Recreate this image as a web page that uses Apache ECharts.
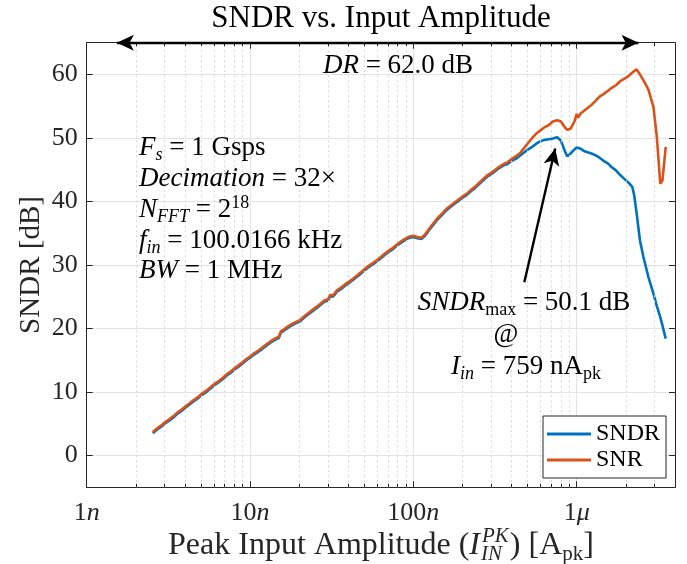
<!DOCTYPE html>
<html><head><meta charset="utf-8">
<script src="https://cdn.jsdelivr.net/npm/echarts@6/dist/echarts.min.js"></script>
<style>html,body{margin:0;padding:0;background:#fff}#c{width:687px;height:564px}</style>
</head><body><div id="c"></div>
<script>
// Peak input amplitude in nA
const ampNA = [2.54,2.7,2.85,3.0,3.2,3.4,3.6,3.8,4.0,4.25,4.5,4.8,5.1,5.4,5.7,6.0,6.4,6.8,7.2,7.6,8.0,8.5,9.0,9.5,10.0,10.6,11.2,11.9,12.6,13.4,14.2,15.0,15.5,16.0,17.0,18.0,19.0,20.2,21.4,22.7,24.0,25.5,27.0,28.5,30.0,31.0,32.0,33.0,34.0,36.0,38.0,40.0,42.5,45.0,47.5,50.5,53.5,56.5,60,63.5,67,71,75,80,85,90,95,100,106,112,118,125,133,141,150,159,168,178,189,200,212,225,238,252,267,283,300,318,337,357,378,400,424,449,476,504,534,566,600,636,674,714,759,800,850,877,920,970,1000,1020,1060,1100,1150,1220,1300,1380,1460,1550,1640,1740,1840,1950,2070,2190,2250,2330,2440,2560,2750,2950,3100,3250,3350,3510];
const sndrDB = [3.5,4.1,4.5,5.0,5.5,6.0,6.6,7.0,7.5,8.0,8.5,9.0,9.6,10.0,10.5,11.0,11.5,12.0,12.6,13.0,13.5,14.0,14.5,15.0,15.4,15.9,16.3,16.8,17.3,17.8,18.2,18.5,19.4,19.6,20.1,20.5,20.8,21.1,21.7,22.2,22.7,23.2,23.7,24.2,24.4,25.1,25.0,25.3,25.8,26.2,26.7,27.1,27.6,28.1,28.6,29.2,29.7,30.1,30.6,31.1,31.6,32.1,32.5,33.1,33.6,34.0,34.3,34.4,34.2,34.1,34.6,35.5,36.4,37.2,37.9,38.6,39.1,39.6,40.1,40.6,41.0,41.6,42.1,42.7,43.3,43.9,44.3,44.8,45.3,45.7,45.9,46.4,46.7,47.2,47.7,48.2,48.6,49.1,49.5,49.7,49.8,49.9,50.1,49.6,47.8,47.1,47.6,48.2,48.5,48.6,48.3,48.0,47.8,47.6,47.3,46.9,46.4,46.0,45.4,44.9,44.2,43.6,43.0,42.3,41.0,38.1,33.9,31.3,28.1,25.5,23.5,21.8,20.5,18.4];
const snrDB = [3.7,4.3,4.7,5.2,5.7,6.2,6.8,7.2,7.7,8.2,8.7,9.2,9.8,10.2,10.7,11.2,11.7,12.2,12.8,13.2,13.7,14.2,14.7,15.2,15.6,16.1,16.5,17.0,17.5,18.0,18.4,18.7,19.6,19.8,20.3,20.7,21.0,21.3,21.9,22.4,22.9,23.4,23.9,24.4,24.6,25.3,25.2,25.5,26.0,26.4,26.9,27.3,27.8,28.3,28.8,29.4,29.9,30.3,30.8,31.3,31.8,32.3,32.7,33.3,33.8,34.2,34.5,34.6,34.4,34.3,34.8,35.7,36.6,37.4,38.1,38.8,39.3,39.8,40.3,40.8,41.2,41.8,42.3,42.9,43.5,44.1,44.5,45.0,45.5,45.9,46.2,46.7,47.1,47.6,48.4,49.2,50.0,50.7,51.2,51.7,52.0,52.6,52.8,52.6,51.6,51.3,51.5,52.6,53.8,53.2,53.9,54.2,54.6,55.1,55.8,56.5,56.9,57.4,57.9,58.3,58.9,59.3,59.7,60.3,60.6,60.8,60.0,59.1,57.6,54.9,50.0,42.8,43.3,48.6];
const seriesNames = ['SNDR','SNR'];
const seriesColors = ['#0072BD','#D95319'];
const xTickValues = [1,10,100,1000];
const xTickNums = ['1','10','100','1'];
const xTickUnits = ['n','n','n','μ'];
const yTickValues = [0,10,20,30,40,50,60];
// annotation arrows in data coordinates [nA, dB]
const drArrowStart = [1.53,65], drArrowEnd = [2390,65];
const peakArrowStart = [478,27.3], peakArrowEnd = [739,48.35];

const FAM = '"Liberation Serif","Times New Roman",serif';
const SERIF = FAM;
const TXT = '#262626';

const mctx = document.createElement('canvas').getContext('2d');
function measure(t, size, italic){ mctx.font = (italic ? 'italic ' : '') + size + 'px ' + FAM; return mctx.measureText(t).width; }

// minor log grid positions
const minorX = [];
for (let k = 0; k < 4; k++) for (let d = 2; d <= 9; d++) { const v = d * Math.pow(10, k); if (v < 4000) minorX.push(v); }

function isTick(v, arr){ return arr.findIndex(t => Math.abs(Math.log10(v) - Math.log10(t)) < 1e-6); }

const chart = echarts.init(document.getElementById('c'));
const xBase = {type:'log', logBase:10, min:1, max:4000};
const yBase = {type:'value', min:-5, max:65, splitNumber:7};

const minorLines = minorX.map(v => ({xAxis:v}));
const minorTicks = [];
minorX.forEach(v => {
  minorTicks.push([{coord:[v,-5]},{coord:[v,-4.45]}]);
  minorTicks.push([{coord:[v,65]},{coord:[v,64.45]}]);
});

// x-axis title built from pieces (stacked super/subscript)
const XL = 32, XS = 21, xlY = 546;
const xlParts = [
  {t:'Peak Input Amplitude (', s:XL, it:false, dy:0},
  {t:'I', s:XL, it:true, dy:0},
  {stack:true, sup:'PK', sub:'IN', s:XS},
  {t:') [A', s:XL, it:false, dy:0},
  {t:'pk', s:XS, it:false, dy:8},
  {t:']', s:XL, it:false, dy:0}
];
let xlW = 0;
xlParts.forEach(p => { p.w = p.stack ? Math.max(measure(p.sup, p.s, true), measure(p.sub, p.s, true)) + 3 : measure(p.t, p.s, p.it); xlW += p.w; });
let cx = 381 - xlW / 2;
const xlGraphics = [];
xlParts.forEach(p => {
  if (p.stack) {
    xlGraphics.push({type:'text', z:10, x:cx + 2, y:xlY - 10, style:{text:p.sup, fontFamily:FAM, fontSize:p.s, fontStyle:'italic', fill:TXT, textVerticalAlign:'middle'}});
    xlGraphics.push({type:'text', z:10, x:cx + 1, y:xlY + 8, style:{text:p.sub, fontFamily:FAM, fontSize:p.s, fontStyle:'italic', fill:TXT, textVerticalAlign:'middle'}});
  } else {
    xlGraphics.push({type:'text', z:10, x:cx, y:xlY + p.dy, style:{text:p.t, fontFamily:FAM, fontSize:p.s, fontStyle:p.it ? 'italic' : 'normal', fill:TXT, textVerticalAlign:'middle'}});
  }
  cx += p.w;
});

const AS = 27, SS = 18;
function rich(){ return {
  i:{fontFamily:FAM, fontSize:AS, fontStyle:'italic', fill:'#000', lineHeight:32},
  t:{fontFamily:FAM, fontSize:AS, fill:'#000', lineHeight:32},
  s:{fontFamily:FAM, fontSize:SS, fontStyle:'italic', fill:'#000', lineHeight:17, verticalAlign:'bottom'},
  b:{fontFamily:FAM, fontSize:SS, fill:'#000', lineHeight:17, verticalAlign:'bottom'},
  p:{fontFamily:FAM, fontSize:SS, fill:'#000', lineHeight:20, verticalAlign:'top'}
}; }

chart.setOption({
  animation:false,
  backgroundColor:'#fff',
  grid:{left:86.7, top:42.7, right:12, bottom:76.7, containLabel:false},
  xAxis:[
    Object.assign({}, xBase, {position:'bottom',
      axisLine:{show:true, onZero:false, lineStyle:{color:TXT, width:1}},
      axisTick:{show:true, inside:true, length:6, lineStyle:{color:TXT}},
      splitLine:{show:true, lineStyle:{color:'#e3e3e3', width:1}},
      axisLabel:{margin:13, color:TXT, fontFamily:SERIF, fontSize:26,
        formatter:function(v){ const i = isTick(v, xTickValues); if (i < 0) return ''; return '{n|' + xTickNums[i] + '}{u|' + xTickUnits[i] + '}'; },
        rich:{n:{fontFamily:SERIF, fontSize:26, color:TXT}, u:{fontFamily:SERIF, fontSize:26, fontStyle:'italic', color:TXT}}}
    }),
    Object.assign({}, xBase, {position:'top',
      axisLine:{show:true, onZero:false, lineStyle:{color:TXT, width:1}},
      axisTick:{show:true, inside:true, length:6, lineStyle:{color:TXT}},
      splitLine:{show:false}, axisLabel:{show:false}})
  ],
  yAxis:[
    Object.assign({}, yBase, {position:'left',
      axisLine:{show:true, onZero:false, lineStyle:{color:TXT, width:1}},
      axisTick:{show:true, inside:true, length:6, lineStyle:{color:TXT}},
      splitLine:{show:true, lineStyle:{color:'#e3e3e3', width:1}},
      axisLabel:{margin:9, color:TXT, fontFamily:SERIF, fontSize:26,
        formatter:function(v){ return yTickValues.indexOf(Math.round(v)) >= 0 && Math.abs(v - Math.round(v)) < 1e-6 ? String(Math.round(v)) : ''; }}
    }),
    Object.assign({}, yBase, {position:'right',
      axisLine:{show:true, onZero:false, lineStyle:{color:TXT, width:1}},
      axisTick:{show:true, inside:true, length:6, lineStyle:{color:TXT}},
      splitLine:{show:false}, axisLabel:{show:false}})
  ],
  legend:{
    data:seriesNames, orient:'vertical', left:543, top:416, z:20,
    backgroundColor:'#fff', borderColor:TXT, borderWidth:1,
    padding:[6,6,6,4], itemGap:2, itemWidth:44, itemHeight:3, icon:'rect',
    textStyle:{fontFamily:SERIF, fontSize:24, color:'#000'}
  },
  series:[
    {type:'line', name:'grid-minor', data:[], silent:true, z:1,
      markLine:{silent:true, symbol:['none','none'], label:{show:false}, animation:false,
        lineStyle:{type:[2,3], color:'#d6d6d6', width:1}, data:minorLines}},
    {type:'line', name:'tick-minor', data:[], silent:true, z:3,
      markLine:{silent:true, symbol:['none','none'], label:{show:false}, animation:false,
        lineStyle:{type:'solid', color:TXT, width:1}, data:minorTicks}},
    {type:'line', name:seriesNames[0], data:ampNA.map((a,i)=>[a, sndrDB[i]]), showSymbol:false, symbol:'none',
      lineStyle:{color:seriesColors[0], width:2.6}, itemStyle:{color:seriesColors[0]}, z:4},
    {type:'line', name:seriesNames[1], data:ampNA.map((a,i)=>[a, snrDB[i]]), showSymbol:false, symbol:'none',
      lineStyle:{color:seriesColors[1], width:2.6}, itemStyle:{color:seriesColors[1]}, z:5},
    {type:'line', name:'arrows', data:[], silent:true, z:6,
      markLine:{silent:true, label:{show:false}, animation:false,
        data:[
          [{coord:drArrowStart, symbol:'arrow', symbolSize:[12,17]},{coord:drArrowEnd, symbol:'arrow', symbolSize:[12,17]}],
          [{coord:peakArrowStart, symbol:'none'},{coord:peakArrowEnd, symbol:'arrow', symbolSize:[12,17]}]
        ],
        lineStyle:{type:'solid', color:'#000', width:2.4}}}
  ],
  graphic:[
    {type:'text', z:10, x:381, y:19, style:{text:'SNDR vs. Input Amplitude', fontFamily:SERIF, fontSize:31, fill:'#000', textAlign:'center', textVerticalAlign:'middle'}},
    {type:'text', z:10, x:31, y:265, rotation:Math.PI/2, style:{text:'SNDR [dB]', fontFamily:SERIF, fontSize:29, fill:TXT, textAlign:'center', textVerticalAlign:'middle'}},
    {type:'text', z:10, x:398, y:66, style:{text:'{i|DR}{t| = 62.0 dB}', textAlign:'center', textVerticalAlign:'middle', rich:rich()}},
    {type:'text', z:10, x:139, y:148, style:{text:'{i|F}{s|s}{t| = 1 Gsps}', textVerticalAlign:'middle', rich:rich()}},
    {type:'text', z:10, x:139, y:179, style:{text:'{i|Decimation}{t| = 32×}', textVerticalAlign:'middle', rich:rich()}},
    {type:'text', z:10, x:139, y:210, style:{text:'{i|N}{s|FFT}{t| = 2}{p|18}', textVerticalAlign:'middle', rich:rich()}},
    {type:'text', z:10, x:139, y:241, style:{text:'{i|f}{s|in}{t| = 100.0166 kHz}', textVerticalAlign:'middle', rich:rich()}},
    {type:'text', z:10, x:139, y:271, style:{text:'{i|BW}{t| = 1 MHz}', textVerticalAlign:'middle', rich:rich()}},
    {type:'text', z:10, x:524, y:303, style:{text:'{i|SNDR}{b|max}{t| = 50.1 dB}', textAlign:'center', textVerticalAlign:'middle', rich:rich()}},
    {type:'text', z:10, x:506, y:335, style:{text:'@', fontFamily:SERIF, fontSize:AS, fill:'#000', textAlign:'center', textVerticalAlign:'middle'}},
    {type:'text', z:10, x:526, y:367, style:{text:'{i|I}{s|in}{t| = 759 nA}{b|pk}', textAlign:'center', textVerticalAlign:'middle', rich:rich()}}
  ].concat(xlGraphics)
});
</script>
</body></html>
